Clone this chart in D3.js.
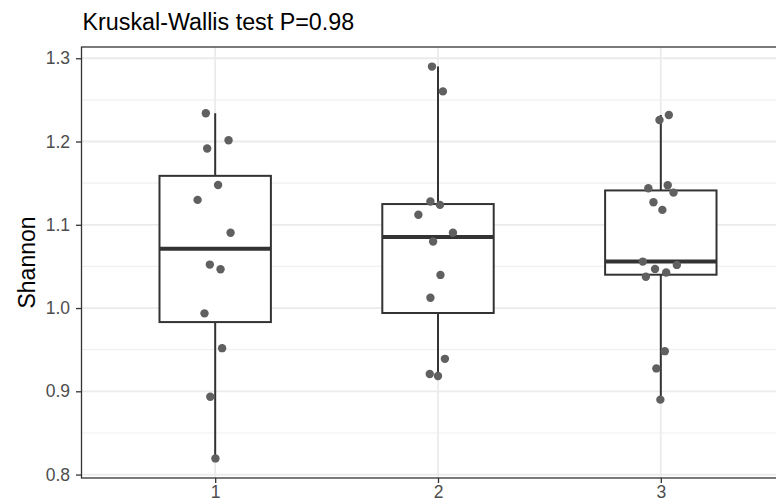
<!DOCTYPE html>
<html>
<head>
<meta charset="utf-8">
<script src="https://cdn.jsdelivr.net/npm/d3@7"></script>
<style>
  body { margin: 0; background: #fff; }
  svg { display: block; font-family: "Liberation Sans", Arial, sans-serif; }
</style>
</head>
<body>
<div id="chart"></div>
<script>
// data
let groups = ["1", "2", "3"];
let shannon1 = [1.234, 1.2016, 1.1917, 1.1478, 1.1299, 1.0904, 1.0522, 1.0466, 0.9936, 0.9518, 0.8935, 0.8194];
let shannon2 = [1.290, 1.2602, 1.1279, 1.1239, 1.1120, 1.0904, 1.0800, 1.0398, 1.0124, 0.9390, 0.9207, 0.9183];
let shannon3 = [1.2319, 1.2259, 1.1439, 1.1475, 1.1386, 1.1271, 1.1179, 1.0558, 1.0518, 1.0470, 1.0426, 1.0375, 0.9482, 0.9275, 0.8900];
// horizontal jitter of each point, in category units
let jitter1 = [-0.042, 0.060, -0.036, 0.013, -0.079, 0.069, -0.024, 0.024, -0.048, 0.031, -0.022, 0.001];
let jitter2 = [-0.027, 0.022, -0.034, 0.009, -0.088, 0.067, -0.022, 0.011, -0.034, 0.031, -0.037, 0.000];
let jitter3 = [0.036, -0.006, -0.056, 0.031, 0.057, -0.033, 0.007, -0.081, 0.072, -0.026, 0.024, -0.067, 0.018, -0.020, -0.002];
let yTicks = [0.8, 0.9, 1.0, 1.1, 1.2, 1.3];
let yMinor = [0.85, 0.95, 1.05, 1.15, 1.25];
let title = "Kruskal-Wallis test P=0.98";
let yTitle = "Shannon";

let width = 776,
    height = 502;
let panel = {left: 81.5, right: 794.5, top: 47, bottom: 478};

let values = [shannon1, shannon2, shannon3];
let jitters = [jitter1, jitter2, jitter3];

let all = values.flat();
let lo = d3.min(all), hi = d3.max(all);
let pad = (hi - lo) * 0.05;

let x = d3.scalePoint()
    .domain(groups)
    .range([panel.left, panel.right])
    .padding(0.6);
let step = x.step();

let y = d3.scaleLinear()
    .domain([lo - pad, hi + pad])
    .range([panel.bottom, panel.top]);

let svg = d3.select("#chart").append("svg")
    .attr("width", width)
    .attr("height", height);

// clip to the panel
svg.append("defs").append("clipPath")
    .attr("id", "clip")
    .append("rect")
    .attr("x", panel.left)
    .attr("y", panel.top)
    .attr("width", panel.right - panel.left)
    .attr("height", panel.bottom - panel.top);

let g = svg.append("g").attr("clip-path", "url(#clip)");

// grid
g.selectAll(".minor")
    .data(yMinor)
    .enter().append("line")
    .attr("x1", panel.left).attr("x2", panel.right)
    .attr("y1", d => y(d)).attr("y2", d => y(d))
    .attr("stroke", "#f0f0f0")
    .attr("stroke-width", 1.1);
g.selectAll(".major")
    .data(yTicks)
    .enter().append("line")
    .attr("x1", panel.left).attr("x2", panel.right)
    .attr("y1", d => y(d)).attr("y2", d => y(d))
    .attr("stroke", "#ebebeb")
    .attr("stroke-width", 1.8);
g.selectAll(".vmajor")
    .data(groups)
    .enter().append("line")
    .attr("x1", d => x(d)).attr("x2", d => x(d))
    .attr("y1", panel.top).attr("y2", panel.bottom)
    .attr("stroke", "#ebebeb")
    .attr("stroke-width", 1.8);

// box statistics
let stats = groups.map((grp, i) => {
    let v = values[i].slice().sort(d3.ascending);
    let q1 = d3.quantile(v, 0.25),
        med = d3.quantile(v, 0.5),
        q3 = d3.quantile(v, 0.75);
    let iqr = q3 - q1;
    let wLo = d3.min(v.filter(d => d >= q1 - 1.5 * iqr));
    let wHi = d3.max(v.filter(d => d <= q3 + 1.5 * iqr));
    return {grp, q1, med, q3, wLo, wHi};
});

let boxW = step * 0.5;
let boxes = g.selectAll(".box")
    .data(stats)
    .enter().append("g");

boxes.append("line")
    .attr("x1", d => x(d.grp)).attr("x2", d => x(d.grp))
    .attr("y1", d => y(d.wHi)).attr("y2", d => y(d.q3))
    .attr("stroke", "#333333").attr("stroke-width", 2);
boxes.append("line")
    .attr("x1", d => x(d.grp)).attr("x2", d => x(d.grp))
    .attr("y1", d => y(d.q1)).attr("y2", d => y(d.wLo))
    .attr("stroke", "#333333").attr("stroke-width", 2);
boxes.append("rect")
    .attr("x", d => x(d.grp) - boxW / 2)
    .attr("y", d => y(d.q3))
    .attr("width", boxW)
    .attr("height", d => y(d.q1) - y(d.q3))
    .attr("fill", "#fff")
    .attr("stroke", "#333333")
    .attr("stroke-width", 2);
boxes.append("line")
    .attr("x1", d => x(d.grp) - boxW / 2).attr("x2", d => x(d.grp) + boxW / 2)
    .attr("y1", d => y(d.med)).attr("y2", d => y(d.med))
    .attr("stroke", "#333333").attr("stroke-width", 4);

// jittered points
let pts = [];
groups.forEach((grp, i) => {
    values[i].forEach((v, j) => pts.push({grp, v, dx: jitters[i][j]}));
});
g.selectAll(".pt")
    .data(pts)
    .enter().append("circle")
    .attr("cx", d => x(d.grp) + d.dx * step)
    .attr("cy", d => y(d.v))
    .attr("r", 4.2)
    .attr("fill", "#606060");

// panel border
svg.append("rect")
    .attr("x", panel.left)
    .attr("y", panel.top)
    .attr("width", panel.right - panel.left)
    .attr("height", panel.bottom - panel.top)
    .attr("fill", "none")
    .attr("stroke", "#333333")
    .attr("stroke-width", 1.3);

// axes
let yAxis = svg.append("g")
    .attr("transform", `translate(${panel.left},0)`)
    .call(d3.axisLeft(y).tickValues(yTicks).tickSize(5.5).tickPadding(6).tickFormat(d3.format(".1f")));
let xAxis = svg.append("g")
    .attr("transform", `translate(0,${panel.bottom})`)
    .call(d3.axisBottom(x).tickSize(5).tickPadding(2.5));
[yAxis, xAxis].forEach(a => {
    a.select(".domain").remove();
    a.selectAll(".tick line").attr("stroke", "#333333").attr("stroke-width", 1.3);
    a.selectAll(".tick text")
        .attr("fill", "#4d4d4d")
        .style("font-size", "17.5px")
        .style("font-family", "Liberation Sans, Arial, sans-serif");
});

// titles
svg.append("text")
    .attr("x", panel.left + 1)
    .attr("y", 30)
    .attr("fill", "#000")
    .style("font-size", "23.3px")
    .text(title);

svg.append("text")
    .attr("transform", `translate(35,${(panel.top + panel.bottom) / 2}) rotate(-90)`)
    .attr("text-anchor", "middle")
    .attr("fill", "#000")
    .style("font-size", "23px")
    .text(yTitle);
</script>
</body>
</html>
